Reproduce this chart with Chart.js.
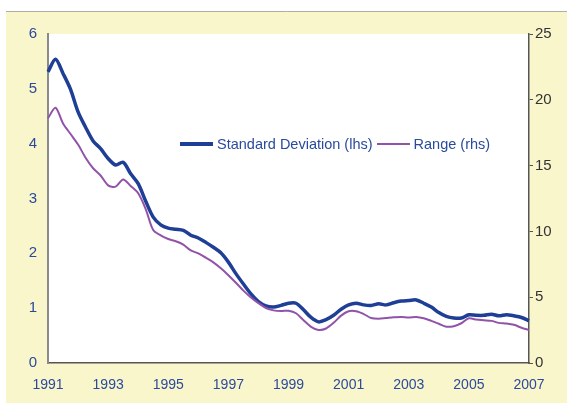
<!DOCTYPE html>
<html>
<head>
<meta charset="utf-8">
<script src="https://cdn.jsdelivr.net/npm/chart.js@4.4.1/dist/chart.umd.min.js"></script>
<style>
  html, body { margin: 0; padding: 0; background: #ffffff; }
  #wrap { position: relative; width: 567px; height: 403px; }
  #legend { position: absolute; left: 180px; top: 136px; display: flex; align-items: center;
    font-family: "Liberation Sans", Arial, sans-serif; font-size: 14.5px; color: #2A4A9C; white-space: nowrap; }
  #legend .sw { display: inline-block; width: 33px; margin-right: 4px; }
  #legend .item { display: flex; align-items: center; margin-right: 4px; }
</style>
</head>
<body>
<div id="wrap">
  <canvas id="c" width="567" height="403"></canvas>
  <div id="legend">
    <span class="item"><span class="sw" style="height:3.5px;background:#1F3F97"></span>Standard Deviation (lhs)</span>
    <span class="item"><span class="sw" style="height:2px;background:#9153A9"></span>Range (rhs)</span>
  </div>
</div>
<script>
const quarters = [
  '1991Q1','1991Q2','1991Q3','1991Q4','1992Q1','1992Q2','1992Q3','1992Q4',
  '1993Q1','1993Q2','1993Q3','1993Q4','1994Q1','1994Q2','1994Q3','1994Q4',
  '1995Q1','1995Q2','1995Q3','1995Q4','1996Q1','1996Q2','1996Q3','1996Q4',
  '1997Q1','1997Q2','1997Q3','1997Q4','1998Q1','1998Q2','1998Q3','1998Q4',
  '1999Q1','1999Q2','1999Q3','1999Q4','2000Q1','2000Q2','2000Q3','2000Q4',
  '2001Q1','2001Q2','2001Q3','2001Q4','2002Q1','2002Q2','2002Q3','2002Q4',
  '2003Q1','2003Q2','2003Q3','2003Q4','2004Q1','2004Q2','2004Q3','2004Q4',
  '2005Q1','2005Q2','2005Q3','2005Q4','2006Q1','2006Q2','2006Q3','2006Q4',
  '2007Q1'
];
const tickYears = ['1991','1993','1995','1997','1999','2001','2003','2005','2007'];

const stdDev = [
  5.31, 5.54, 5.28, 4.99, 4.58, 4.30, 4.05, 3.91,
  3.73, 3.61, 3.66, 3.45, 3.27, 2.95, 2.66, 2.52,
  2.46, 2.44, 2.42, 2.33, 2.28, 2.20, 2.11, 2.01,
  1.84, 1.63, 1.44, 1.26, 1.12, 1.04, 1.02, 1.05,
  1.09, 1.09, 0.97, 0.83, 0.75, 0.79, 0.87, 0.98,
  1.06, 1.09, 1.06, 1.05, 1.08, 1.06, 1.10, 1.13,
  1.14, 1.15, 1.09, 1.02, 0.92, 0.85, 0.82, 0.82,
  0.88, 0.87, 0.87, 0.89, 0.86, 0.88, 0.86, 0.83,
  0.77
];
const rangeVals = [
  18.6, 19.4, 18.2, 17.4, 16.6, 15.6, 14.8, 14.25,
  13.5, 13.4, 13.95, 13.45, 12.9, 11.7, 10.1, 9.7,
  9.42, 9.25, 9.0, 8.55, 8.33, 8.0, 7.65, 7.2,
  6.67, 6.1, 5.5, 4.98, 4.55, 4.18, 4.0, 3.95,
  3.97, 3.78, 3.25, 2.75, 2.51, 2.62, 3.05, 3.6,
  3.93, 3.93, 3.72, 3.42, 3.37, 3.42, 3.47, 3.5,
  3.46, 3.5, 3.4, 3.2, 2.98, 2.76, 2.8, 3.02,
  3.4, 3.3, 3.25, 3.2, 3.05, 3.0, 2.9, 2.68,
  2.51
];
const leftTicks = [0, 1, 2, 3, 4, 5, 6];
const rightTicks = [0, 5, 10, 15, 20, 25];

const bgPlugin = {
  id: 'bg',
  beforeDraw(chart) {
    const ctx = chart.ctx, a = chart.chartArea;
    ctx.save();
    ctx.fillStyle = '#ffffff';
    ctx.fillRect(0, 0, chart.width, chart.height);
    ctx.fillStyle = '#FAF6CC';
    ctx.fillRect(6, 12, chart.width - 6, chart.height - 12);
    ctx.strokeStyle = '#AEAEA6';
    ctx.lineWidth = 1;
    ctx.beginPath(); ctx.moveTo(6, 11.5); ctx.lineTo(chart.width, 11.5); ctx.stroke();
    ctx.fillStyle = '#ffffff';
    ctx.fillRect(a.left, a.top, a.right - a.left, a.bottom - a.top);
    ctx.restore();
  }
};

const FONT_X = { family: '"Liberation Sans", Arial, sans-serif', size: 14 };
const FONT_Y = { family: '"Liberation Sans", Arial, sans-serif', size: 15 };

new Chart(document.getElementById('c'), {
  type: 'line',
  data: {
    labels: quarters,
    datasets: [
      { label: 'Range (rhs)', data: rangeVals, yAxisID: 'yR', borderColor: '#9153A9', borderWidth: 2,
        pointRadius: 0, tension: 0.3, fill: false },
      { label: 'Standard Deviation (lhs)', data: stdDev, yAxisID: 'yL', borderColor: '#1F3F97', borderWidth: 3.5,
        pointRadius: 0, tension: 0.3, fill: false }
    ]
  },
  options: {
    responsive: false,
    animation: false,
    layout: { padding: { top: 34, left: 0, right: 0, bottom: 0 } },
    plugins: { legend: { display: false }, tooltip: { enabled: false } },
    scales: {
      x: {
        type: 'category',
        offset: false,
        grid: { display: false, drawTicks: false },
        border: { display: true, color: '#555555', width: 1.5 },
        ticks: {
          autoSkip: false, maxRotation: 0, minRotation: 0, padding: 14,
          color: '#2A4A9C', font: FONT_X,
          callback(v, i) {
            const q = quarters[i];
            const y = q.slice(0, 4);
            return (q.endsWith('Q1') && tickYears.includes(y)) ? y : '';
          }
        },
        afterFit(s) { s.height = 40; }
      },
      yL: {
        position: 'left', min: 0, max: 6,
        grid: { display: false, drawTicks: false },
        border: { display: true, color: '#8A8A8A', width: 2 },
        afterBuildTicks(s) { s.ticks = leftTicks.map(v => ({ value: v })); },
        ticks: { color: '#2A4A9C', font: FONT_Y, padding: 11 },
        afterFit(s) { s.width = 48; }
      },
      yR: {
        position: 'right', min: 0, max: 25,
        grid: { display: true, drawOnChartArea: false, drawTicks: true, tickLength: 4, color: '#555555', lineWidth: 1 },
        border: { display: true, color: '#555555', width: 1.5 },
        afterBuildTicks(s) { s.ticks = rightTicks.map(v => ({ value: v })); },
        ticks: { color: '#333333', font: FONT_Y, padding: 2 },
        afterFit(s) { s.width = 38; }
      }
    }
  },
  plugins: [bgPlugin]
});
</script>
</body>
</html>
